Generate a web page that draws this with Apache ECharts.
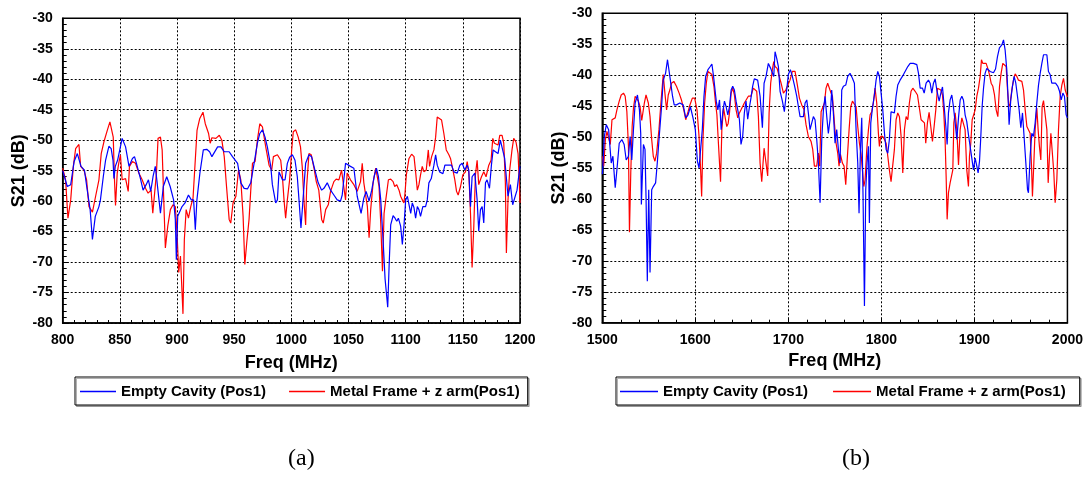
<!DOCTYPE html>
<html>
<head>
<meta charset="utf-8">
<script src="https://cdn.jsdelivr.net/npm/echarts@6/dist/echarts.min.js"></script>
<style>html,body{margin:0;padding:0;background:#fff;}#c{width:1086px;height:478px;}</style>
</head>
<body>
<div id="c"></div>
<script>
// ---- Data (frequency MHz, S21 dB) ----
const seriesNames = ["Empty Cavity (Pos1)", "Metal Frame + z arm(Pos1)"];
const captions = ["(a)", "(b)"];
const xRangeA = [800, 1200, 50];
const xRangeB = [1500, 2000, 100];
const yRange = [-80, -30, 5];

const emptyA = [[800,-55.0],[804,-57.6],[807,-57.3],[810,-53.5],[812.8,-52.2],[814,-51.9],[816,-54.3],[819,-54.9],[821,-57.6],[824,-61.4],[826,-66.3],[828.5,-62.5],[831.7,-60.9],[833,-59.8],[835.5,-56],[837.5,-53.3],[840.4,-51],[842.4,-51.4],[844,-53.3],[844.8,-56.3],[846,-54.3],[848,-53.3],[852,-49.7],[855,-51.1],[858,-54.3],[861,-53],[862.8,-52.7],[864.5,-53.8],[868,-56.3],[870.3,-58.2],[873,-57.3],[875,-56.5],[877,-58.4],[879,-56],[881,-54.3],[882.6,-57],[885.5,-62],[888,-57.6],[891,-56],[894,-57.6],[897,-59.8],[898.5,-63],[899.4,-69.6],[900.6,-62.5],[904.4,-60.9],[907,-60.3],[910,-59],[912.5,-59.8],[914.5,-59.8],[916,-64.7],[917.4,-59.8],[920,-55.4],[923,-51.6],[926,-51.5],[928.5,-51.9],[930.5,-52.7],[935.5,-51.1],[938.4,-51.1],[941.3,-51.9],[945.6,-51.9],[948.5,-52.7],[953,-53.8],[955.8,-57],[958.7,-57.9],[961.6,-58],[964.5,-57],[967.4,-53.8],[970.3,-50.5],[972.4,-48.9],[974.7,-48.3],[977,-49.5],[979,-51.1],[982,-54.3],[983.4,-57.3],[986.3,-60.3],[987.8,-59.8],[989.2,-55.2],[992.2,-56.5],[994.5,-56.5],[996.5,-53.8],[998.5,-52.8],[1000.9,-52.4],[1003.2,-53.3],[1005.2,-56],[1006.7,-59.8],[1008.4,-64.4],[1010.2,-59.8],[1012.5,-53.8],[1015.4,-52.4],[1017.7,-52.7],[1020.6,-54.9],[1023.5,-57],[1026.5,-58.2],[1028.5,-57.9],[1031.4,-57],[1034.3,-58.2],[1037.2,-59],[1040.1,-59.8],[1043,-60],[1044.5,-59],[1047.4,-53.8],[1048.8,-53.5],[1051.7,-54.3],[1054.7,-54.6],[1057.6,-59.2],[1061,-62],[1063.4,-59.5],[1065.4,-58.4],[1068,-60],[1070.3,-58.2],[1072.4,-56],[1074.4,-54.6],[1076.2,-56],[1078.2,-59.8],[1080.2,-66.3],[1082,-72.8],[1083.1,-75],[1084.3,-77.4],[1085.5,-70.7],[1086.9,-63.9],[1089,-62.4],[1090.7,-62.8],[1092.2,-63.3],[1093.6,-62.8],[1095.6,-64.1],[1097.1,-67.1],[1098.5,-64.1],[1100,-59.8],[1101.5,-59.2],[1102.9,-59],[1104.4,-62],[1105.8,-60.3],[1107.3,-61.1],[1108.7,-62.8],[1110.2,-60.9],[1111.6,-61.4],[1113,-62.5],[1115,-60.9],[1117.4,-60.9],[1118.9,-59.8],[1120.3,-57],[1122.4,-56.3],[1124.7,-54.1],[1126.2,-52.4],[1127.6,-54.1],[1129.7,-55.2],[1132.6,-55.5],[1134.3,-54.1],[1137.2,-54.1],[1140.1,-54.1],[1142.2,-55.2],[1145.1,-55.4],[1147.4,-54.1],[1149.4,-53.8],[1151.7,-54.9],[1153.8,-54.1],[1155.2,-54.9],[1156.7,-60.9],[1158.1,-56],[1160.5,-55.4],[1162.5,-59.8],[1163.9,-64.9],[1165.4,-61.4],[1166.9,-60.9],[1168.3,-63.6],[1169.8,-57],[1171.2,-56.5],[1173.3,-57.9],[1175,-54.1],[1176.5,-51.6],[1178.5,-51.9],[1180.8,-52.2],[1182.8,-50],[1184.3,-50.3],[1186.6,-53],[1188.1,-52.7],[1189.5,-59.2],[1191.6,-57.3],[1193.6,-60.6],[1195.3,-60.3],[1197.4,-58.2],[1198.8,-56],[1200,-54.3]];

const metalA = [[800,-54.6],[802.5,-56.5],[804.6,-62.8],[807,-59.8],[809.3,-54.3],[811.3,-51.4],[814.2,-50.7],[815.7,-54.3],[818.6,-54.9],[820.9,-56.5],[823,-60.9],[826,-61.8],[828.8,-59.2],[831.7,-56.5],[833.7,-52.2],[836,-50.3],[839,-48.4],[841.3,-47],[842.7,-47.2],[844.2,-49.5],[845.3,-56.5],[846.2,-60.7],[847.7,-55.4],[849,-53.8],[850.5,-52.4],[852,-56.5],[855,-56.3],[856.4,-56.3],[857.3,-58.4],[858.4,-54.3],[861,-53.5],[863.7,-53.8],[866.6,-55.4],[869.5,-56.5],[872.4,-57.9],[874.7,-58.7],[877.3,-58.2],[878.8,-62],[880.5,-62],[882,-55.4],[883.4,-49.7],[885.5,-49.5],[887,-51.6],[888.4,-59.8],[889.8,-67.7],[891.9,-64.1],[894.2,-61.4],[896.5,-60.6],[898.5,-60.9],[900,-65.2],[901.5,-71.7],[903,-69],[905.2,-78.5],[906.4,-66.3],[908,-61.4],[910,-62.8],[912,-60.9],[914,-59.5],[915.7,-59.8],[917.5,-48.4],[919.8,-46.5],[922.7,-45.4],[924.7,-47.3],[927.6,-48.9],[929,-50.5],[930.5,-49.6],[934,-49.7],[937,-49.2],[939.2,-50],[941.3,-52.7],[943.3,-57.6],[945.6,-63],[947,-63.6],[949,-60.3],[951.5,-59.2],[953.8,-54.9],[955.8,-56.5],[957.8,-62.5],[959.3,-70.4],[961,-66.8],[963,-63],[964.5,-58.2],[966,-53.8],[968.3,-53.5],[970.3,-50],[972.4,-47.3],[974.7,-47.8],[977.6,-51.1],[980.5,-54.1],[982.8,-54.9],[984.3,-52.7],[987.8,-52.4],[989.2,-52.2],[990.7,-53.3],[992.2,-56],[993.6,-59.8],[995,-62.8],[996.5,-59.8],[998.5,-56.5],[1000.3,-51.6],[1001.7,-48.6],[1003.8,-48.3],[1006,-49.5],[1008,-51.1],[1009.5,-54.3],[1011,-59.8],[1012.5,-63.9],[1013.4,-57.6],[1015.4,-52.2],[1017.4,-52.4],[1019.8,-54.6],[1021.8,-56.8],[1024,-58.2],[1026.5,-63],[1027.9,-63.6],[1030,-61.4],[1032.3,-60.6],[1034.3,-58.4],[1037.2,-56.8],[1039.2,-56.4],[1041.6,-56.5],[1043.9,-54.9],[1045.3,-55.2],[1047.4,-59.8],[1048.8,-55.4],[1051.7,-56.5],[1054.7,-57.3],[1057.6,-58.4],[1060.5,-56.8],[1062,-53.8],[1063.4,-57],[1065,-57.3],[1066.5,-60.9],[1068,-66],[1069.4,-61.4],[1071.5,-57],[1073.8,-54.6],[1075.2,-54.9],[1076.7,-57.6],[1078.2,-63.6],[1079.7,-71.5],[1081.1,-62],[1082.6,-59.8],[1084.9,-56.5],[1086.9,-56.4],[1089,-56.8],[1090.4,-57.6],[1092.2,-57.3],[1094.2,-58.2],[1095.6,-59.2],[1097.1,-59.8],[1098.5,-60.3],[1099.4,-58.7],[1100.6,-55.7],[1102.9,-53],[1105.2,-52.3],[1107.3,-52.7],[1108.7,-55.2],[1110.2,-58.2],[1111.6,-57.3],[1113,-55.7],[1114.5,-54.3],[1116,-55.2],[1118,-54.9],[1119.8,-51.6],[1120.9,-54.3],[1122.7,-52.7],[1124.7,-51.6],[1126.2,-49.5],[1127.6,-46.2],[1129.1,-46.1],[1131.4,-46.7],[1133.4,-48.9],[1135.5,-51.6],[1137.8,-52.4],[1139.2,-53],[1140.7,-54.3],[1143,-56.5],[1144.5,-58.4],[1145.9,-59],[1148,-57.6],[1150,-55.7],[1152.3,-55.2],[1153.8,-53.5],[1155.2,-55.2],[1156.7,-62],[1158.1,-70.9],[1159.6,-64.1],[1161,-55.7],[1162.5,-53.3],[1163.9,-57.3],[1166.3,-56],[1168.3,-55.2],[1170.3,-56],[1172.7,-54.1],[1174.7,-53.3],[1176.2,-49.7],[1177.6,-50.5],[1179.1,-50.3],[1180.8,-50.8],[1182.3,-49.2],[1184.3,-49.2],[1185.8,-50.5],[1187.2,-57],[1188.1,-68.5],[1189.5,-59.8],[1191,-54.9],[1193,-51.6],[1194.5,-49.7],[1196.5,-50.3],[1198.3,-52.2],[1199.4,-57],[1200,-60.3]];

const emptyB = [[1500,-56],[1500.4,-55.3],[1502.2,-49.9],[1504.3,-48],[1506.8,-48.8],[1508.6,-48.8],[1509.6,-54.2],[1511.4,-53.1],[1513.9,-58.2],[1515.7,-55.3],[1518.2,-51],[1521,-50.4],[1523.5,-51.2],[1525.7,-53.7],[1528.1,-53.1],[1529.9,-49.9],[1531.7,-53.7],[1533.5,-48.8],[1535.3,-44.5],[1537.8,-43.2],[1539.9,-45.6],[1541.3,-49.4],[1542,-60.9],[1544.2,-51.2],[1545.9,-52],[1547,-59.6],[1548.4,-73.3],[1549.9,-58.5],[1551.3,-71.9],[1553.1,-58.5],[1554.8,-58],[1557.3,-57.4],[1559.1,-54.2],[1561.2,-49.9],[1563.7,-45.1],[1565.5,-40.8],[1568,-39.7],[1570.1,-37.5],[1572.6,-40.2],[1575.5,-43.4],[1577.3,-44.8],[1579.7,-44.8],[1583.3,-44.5],[1586.9,-44.8],[1589.7,-46.9],[1592.2,-46.4],[1594.7,-45.1],[1597.5,-46.9],[1600,-48.8],[1602.2,-53.9],[1604,-55],[1605.7,-54.7],[1607.5,-48.8],[1609.3,-43.4],[1611.1,-40.2],[1613.6,-39.1],[1616,-38.6],[1617.8,-38.2],[1619.6,-40.2],[1622.5,-44.2],[1624.2,-45.6],[1626,-44],[1627.8,-48.8],[1629.6,-45.9],[1631.3,-44.2],[1633.1,-45.1],[1634.9,-46.4],[1636.7,-45.1],[1638.5,-42.4],[1640.2,-41.8],[1642,-42.4],[1643.8,-44.2],[1645.6,-45.6],[1647.4,-47.2],[1649.1,-51.2],[1650.9,-49.9],[1652.7,-46.1],[1654.5,-44.2],[1656.3,-47.1],[1658,-45.3],[1659.8,-43.7],[1661.6,-41.8],[1663.4,-40.6],[1665.2,-40.5],[1667,-40.8],[1669.6,-43.4],[1672.1,-48.5],[1673.9,-41.3],[1676,-40.2],[1678.5,-38.1],[1681,-38.9],[1682.8,-39.1],[1684.3,-40.2],[1685.7,-36.2],[1687.5,-37.3],[1689.3,-38.6],[1691.1,-42.6],[1693.6,-44.2],[1695.7,-45.9],[1697.5,-43.4],[1700,-39.9],[1702.2,-39.1],[1704.3,-40.2],[1706.5,-41.6],[1709,-43.4],[1710.8,-45.1],[1712.6,-46.7],[1716.2,-46.7],[1718,-44.5],[1719.8,-44],[1721.5,-46.1],[1723.3,-48.8],[1725.1,-49.1],[1726.9,-46.7],[1728.7,-47.2],[1730.5,-50.4],[1732.3,-54.2],[1734.1,-60.6],[1735.9,-50.4],[1737.7,-45.6],[1739.5,-43.4],[1741.3,-46.7],[1743,-49.4],[1744.8,-47.2],[1746.6,-42.4],[1748.4,-46.1],[1750.2,-51],[1752,-48.8],[1753.8,-52],[1755.6,-54.2],[1757.4,-42.4],[1759.2,-41.8],[1761.7,-41.6],[1763.8,-40.2],[1766.3,-39.7],[1768.9,-40.5],[1771,-41.3],[1772.8,-48.8],[1774.6,-54.2],[1776,-62.3],[1777.5,-52],[1778.9,-46.9],[1780.3,-59.6],[1781.8,-77.3],[1783.2,-58.5],[1784.6,-54.2],[1786.1,-51.5],[1787.1,-63.9],[1788.6,-47.7],[1790.4,-45.3],[1792.5,-43.2],[1794.3,-40.8],[1796.1,-39.4],[1797.9,-40.2],[1799.7,-42.9],[1801.5,-45.6],[1803.3,-49.4],[1805.1,-52],[1806.9,-52.6],[1808.6,-50.4],[1810.4,-45.9],[1812.2,-45.6],[1814,-46.1],[1815.8,-43.4],[1817.6,-41.6],[1820.1,-40.8],[1822.6,-40.2],[1825.5,-39.4],[1828.4,-38.6],[1830.9,-38.1],[1834.5,-38.1],[1838.1,-38.3],[1839.9,-39.7],[1841.7,-42.1],[1844.2,-42.1],[1846,-42.9],[1848.1,-41.3],[1850.6,-40.8],[1852.4,-41.3],[1854.2,-42.9],[1856,-41.3],[1857.8,-40.6],[1859.6,-42.4],[1862.1,-44.2],[1863.9,-42.9],[1865.7,-41.9],[1867.5,-45.1],[1869.3,-48.3],[1870.7,-51.2],[1872.1,-46.1],[1873.9,-44],[1875.7,-43.2],[1877.5,-45.1],[1879.3,-47.7],[1881.1,-50.4],[1882.9,-46.9],[1884.7,-44],[1886.5,-43.4],[1888.2,-44],[1890,-46.4],[1891.8,-47.5],[1893.6,-49.6],[1895.4,-51.5],[1897.2,-53.4],[1899,-55.3],[1900.8,-53.4],[1902.6,-54.7],[1904,-55.8],[1905.5,-53.9],[1906.9,-49.9],[1908.3,-45.1],[1909.8,-42.1],[1911.5,-39.7],[1913.3,-38.9],[1915.1,-39.1],[1916.9,-39.4],[1918.7,-39.7],[1920.5,-39.6],[1922.7,-39],[1924.8,-37],[1926.9,-35.6],[1929.5,-35.1],[1931.3,-34.3],[1933,-35.9],[1934.8,-39.1],[1936.3,-44],[1937.3,-48],[1939.1,-44],[1940.9,-41.8],[1942.7,-40.2],[1944.5,-41.3],[1946.3,-43.4],[1948.1,-45.6],[1949.9,-48.5],[1951.7,-46.1],[1953.8,-45.9],[1955.3,-54.2],[1957.1,-58.5],[1958.1,-59],[1959.9,-53.1],[1961.7,-49.4],[1963.5,-49.9],[1965.3,-47.7],[1967.1,-44.5],[1968.9,-41.6],[1970.7,-39.7],[1972.5,-38.1],[1974.3,-36.7],[1976.1,-37],[1977.9,-36.7],[1979.6,-39.4],[1981.4,-39.9],[1983.2,-41.3],[1985,-41.6],[1987.2,-41.3],[1989.7,-41.8],[1991.5,-42.6],[1993.3,-44],[1995.1,-42.9],[1996.8,-43.4],[1998.6,-46.4],[2000,-46.9]];

const metalB = [[1500,-53.1],[1501.5,-54.7],[1503.3,-50.4],[1505,-49.1],[1506.8,-49.4],[1508.6,-51.2],[1510.4,-47.2],[1512.1,-46.9],[1513.9,-46.9],[1515.7,-45.6],[1518.2,-44.2],[1520.3,-43.2],[1522.8,-42.9],[1524.6,-43.4],[1526.4,-45.9],[1528.1,-51.5],[1529.2,-65.4],[1530.6,-55.8],[1532.1,-48.3],[1533.5,-45.3],[1535.3,-43.4],[1537.1,-43.3],[1538.8,-44.2],[1540.6,-45.1],[1542.4,-47.3],[1544.2,-47.3],[1545.2,-44.5],[1547,-43.2],[1549.5,-44.5],[1551.3,-46.7],[1553.1,-50.4],[1554.8,-53.1],[1556.6,-53.9],[1558.4,-52.6],[1560.9,-48.8],[1563,-44.5],[1565.5,-39.9],[1567.3,-42.9],[1569.1,-45.6],[1570.9,-43.2],[1572.6,-42.4],[1574.4,-41.3],[1576.9,-41],[1579.7,-41.8],[1582.6,-42.9],[1585.1,-44],[1587.6,-45.6],[1589.7,-47.2],[1592.2,-45.9],[1594,-44.9],[1596.8,-43.7],[1599.3,-43.7],[1601.8,-45.6],[1604,-49.9],[1605.7,-55.3],[1606.8,-59.6],[1608.2,-50.4],[1610,-44.5],[1611.8,-41.3],[1613.6,-39.4],[1615.3,-39.1],[1617.8,-39.9],[1620,-41.8],[1621.7,-44.5],[1623.2,-46.4],[1624.9,-51.2],[1627.1,-57.2],[1628.5,-48.8],[1630.3,-45.3],[1632.1,-45.6],[1633.8,-48.3],[1635.3,-47.8],[1636.7,-46.1],[1638.5,-42.9],[1640.2,-42.1],[1642,-43.2],[1643.8,-45.6],[1645.6,-46.9],[1647.4,-46.1],[1649.1,-45.6],[1650.9,-45.9],[1652.7,-44.5],[1654.5,-44.2],[1657,-43.4],[1659.8,-43.4],[1662.3,-42.1],[1664.4,-41.8],[1666,-42.6],[1667.8,-46.7],[1669.6,-54.2],[1671.4,-57.2],[1673.9,-51.8],[1676,-54.2],[1677.8,-56.3],[1679.3,-46.1],[1681,-41.3],[1682.8,-39.1],[1684.3,-37.8],[1685.7,-38.6],[1687.9,-38.9],[1690,-38.6],[1692.2,-41.3],[1694.7,-42.9],[1697.2,-42.4],[1699.3,-42.6],[1701.8,-40.8],[1704.3,-39.4],[1707.2,-39.4],[1709.7,-41.6],[1711.9,-43.7],[1714.4,-44.8],[1716.9,-45.6],[1719,-48],[1721.5,-49.9],[1724.4,-50.7],[1726.2,-52],[1728,-54.7],[1730.5,-54.7],[1732.3,-52.6],[1733.7,-54.7],[1735.2,-45.9],[1737,-45.6],[1738.8,-44.5],[1740.5,-42.1],[1742.3,-41.3],[1743.8,-41.6],[1745.9,-42.9],[1747.4,-43.4],[1749.5,-47.7],[1751.3,-51],[1753.1,-52.6],[1754.5,-54.7],[1756,-52.8],[1758.1,-54.2],[1759.9,-54.7],[1761.7,-57.7],[1763.5,-53.1],[1765.3,-48.8],[1767.1,-45.1],[1768.9,-44.2],[1771,-44.2],[1772.8,-45.1],[1774.6,-48.3],[1776.4,-51],[1778.2,-52.8],[1779.6,-55.3],[1781.1,-58],[1782.5,-56.9],[1784.3,-52],[1786.1,-48.8],[1787.9,-46.4],[1789.6,-45.9],[1791.4,-44.5],[1793.2,-42.1],[1795,-44.5],[1796.8,-49.4],[1797.9,-51.5],[1799.3,-49.9],[1801.5,-49.9],[1803.3,-50.4],[1805.1,-51],[1806.9,-53.1],[1808.6,-55.3],[1810.4,-57.2],[1812.2,-57.4],[1814,-52],[1815.8,-47.2],[1817.6,-46.1],[1819.4,-46.7],[1821.2,-49.9],[1823,-55.8],[1824.8,-48.8],[1826.6,-46.7],[1828.4,-47.2],[1830.1,-44.5],[1831.9,-42.6],[1833.8,-42.1],[1836.3,-42.6],[1838.8,-43.2],[1840.9,-43.4],[1842.7,-47.2],[1844.5,-47.5],[1846.3,-47.7],[1847.7,-51],[1849.5,-47.7],[1851.3,-46],[1853.1,-48.3],[1854.9,-50.7],[1856.7,-48.3],[1858.5,-45.6],[1860.3,-42.1],[1862.1,-42.1],[1863.9,-42.4],[1865.7,-43.2],[1867.1,-46.1],[1868.5,-50.4],[1869.6,-56.3],[1870.7,-63.3],[1872.1,-59],[1873.9,-57.4],[1875.7,-57.2],[1876.8,-55.3],[1877.9,-47.7],[1879.3,-46.1],[1881.1,-48.8],[1882.9,-54.5],[1884.7,-48.8],[1886.5,-46.9],[1888.2,-47.2],[1890,-48.8],[1891.8,-55.3],[1893.6,-58],[1894.7,-53.1],[1896.1,-51],[1897.6,-47.2],[1899,-47.2],[1900.8,-45.6],[1902.6,-43.4],[1904.4,-42.1],[1906.2,-40.2],[1907.6,-37.5],[1909,-38.1],[1910.8,-38.3],[1912.6,-38.1],[1914.4,-38.9],[1916.2,-39.9],[1918,-41.3],[1919.8,-41.8],[1921.6,-43.2],[1923.4,-45.6],[1925.2,-46.7],[1927,-41.8],[1928.7,-39.7],[1930.5,-38.1],[1932.3,-37.8],[1934.1,-38.6],[1935.6,-42.4],[1937,-45.1],[1938.4,-44.6],[1940.2,-42.4],[1942,-40.8],[1943.8,-39.8],[1945.6,-40.2],[1947.4,-40.8],[1949.2,-40.8],[1951,-41],[1952.8,-42.4],[1954.6,-45.6],[1956.4,-48.3],[1958.1,-48.5],[1959.9,-49.4],[1961.4,-54.7],[1962.4,-59.6],[1963.9,-54.2],[1965.3,-48.8],[1967.1,-45.3],[1968.5,-48.8],[1969.9,-51.5],[1971.4,-53.7],[1972.8,-45.1],[1974.3,-44.1],[1976.1,-44.1],[1977.9,-48.8],[1979.3,-57.4],[1980.7,-53.1],[1982.2,-49.4],[1983.9,-49.1],[1985.4,-55.8],[1986.8,-60.6],[1988.6,-56.9],[1990.4,-48.8],[1992.2,-43.4],[1994,-41.6],[1995.8,-40.5],[1997.6,-42.4],[2000,-43.5]];

// ---- Chart ----
const FONT = "'Liberation Sans', Arial, sans-serif";
const BLUE = '#0000ff', RED = '#ff0000';

function xAxisCfg(gridIndex, r, gap) {
  return {
    type: 'value', gridIndex: gridIndex, min: r[0], max: r[1], interval: r[2],
    name: 'Freq (MHz)', nameLocation: 'middle', nameGap: gap,
    nameTextStyle: { fontFamily: FONT, fontWeight: 'bold', fontSize: 18, color: '#000' },
    axisLine: { show: true, lineStyle: { color: '#000', width: 1.5 } },
    axisTick: { show: true, inside: true, length: 5, lineStyle: { color: '#000' } },
    minorTick: { show: true, splitNumber: 5, length: 3, lineStyle: { color: '#000' } },
    axisLabel: { fontFamily: FONT, fontWeight: 'bold', fontSize: 14, color: '#000', margin: 10,
                 formatter: function (v) { return String(v); } },
    splitLine: { show: true, lineStyle: { color: '#000', type: [2, 2], width: 1 } }
  };
}
function yAxisCfg(gridIndex, gap) {
  return {
    type: 'value', gridIndex: gridIndex, min: yRange[0], max: yRange[1], interval: yRange[2],
    name: 'S21 (dB)', nameLocation: 'middle', nameGap: gap,
    nameTextStyle: { fontFamily: FONT, fontWeight: 'bold', fontSize: 18, color: '#000' },
    axisLine: { show: true, lineStyle: { color: '#000', width: 1.5 } },
    axisTick: { show: true, inside: true, length: 6, lineStyle: { color: '#000' } },
    minorTick: { show: true, splitNumber: 5, length: 4, lineStyle: { color: '#000' } },
    axisLabel: { fontFamily: FONT, fontWeight: 'bold', fontSize: 14, color: '#000', margin: 10,
                 formatter: function (v) { return String(v); } },
    splitLine: { show: true, lineStyle: { color: '#000', type: [2, 2], width: 1 } }
  };
}
function lineSeries(name, data, color, idx) {
  return {
    type: 'line', name: name, data: data, xAxisIndex: idx, yAxisIndex: idx,
    symbol: 'none', showSymbol: false, smooth: false,
    lineStyle: { color: color, width: 1.2 }, itemStyle: { color: color },
    z: color === BLUE ? 3 : 2
  };
}
function legendCfg(left, itemWidth, itemGap, padding) {
  return {
    left: left, top: 377, orient: 'horizontal', data: seriesNames,
    icon: 'rect', itemWidth: itemWidth, itemHeight: 1.5, itemGap: itemGap,
    padding: padding, borderColor: '#000', borderWidth: 1, backgroundColor: '#fff',
    shadowColor: 'rgba(0,0,0,0.3)', shadowOffsetX: 1.5, shadowOffsetY: 1.5, shadowBlur: 0,
    selectedMode: false,
    textStyle: { fontFamily: FONT, fontWeight: 'bold', fontSize: 15, color: '#000' }
  };
}

const chart = echarts.init(document.getElementById('c'), null, { renderer: 'canvas' });
chart.setOption({
  animation: false,
  backgroundColor: '#fff',
  grid: [
    { left: 62.7, right: 566, top: 18.3, bottom: 155, show: true, borderColor: '#000', borderWidth: 1.5, backgroundColor: 'transparent' },
    { left: 602.3, right: 18.3, top: 13.3, bottom: 155.3, show: true, borderColor: '#000', borderWidth: 1.5, backgroundColor: 'transparent' }
  ],
  xAxis: [xAxisCfg(0, xRangeA, 31), xAxisCfg(1, xRangeB, 29)],
  yAxis: [yAxisCfg(0, 35), yAxisCfg(1, 27)],
  legend: [legendCfg(75, 36, 23, [7, 8, 6, 5]), legendCfg(616, 38, 25, [7, 14, 6, 4])],
  series: [
    lineSeries(seriesNames[0], emptyA, BLUE, 0),
    lineSeries(seriesNames[1], metalA, RED, 0),
    lineSeries(seriesNames[0], emptyB, BLUE, 1),
    lineSeries(seriesNames[1], metalB, RED, 1)
  ],
  graphic: [
    { type: 'text', left: 288, top: 447, style: { text: captions[0], font: "24px 'Liberation Serif', 'Times New Roman', serif", fill: '#000' } },
    { type: 'text', left: 842, top: 447, style: { text: captions[1], font: "24px 'Liberation Serif', 'Times New Roman', serif", fill: '#000' } }
  ]
});
</script>
</body>
</html>
